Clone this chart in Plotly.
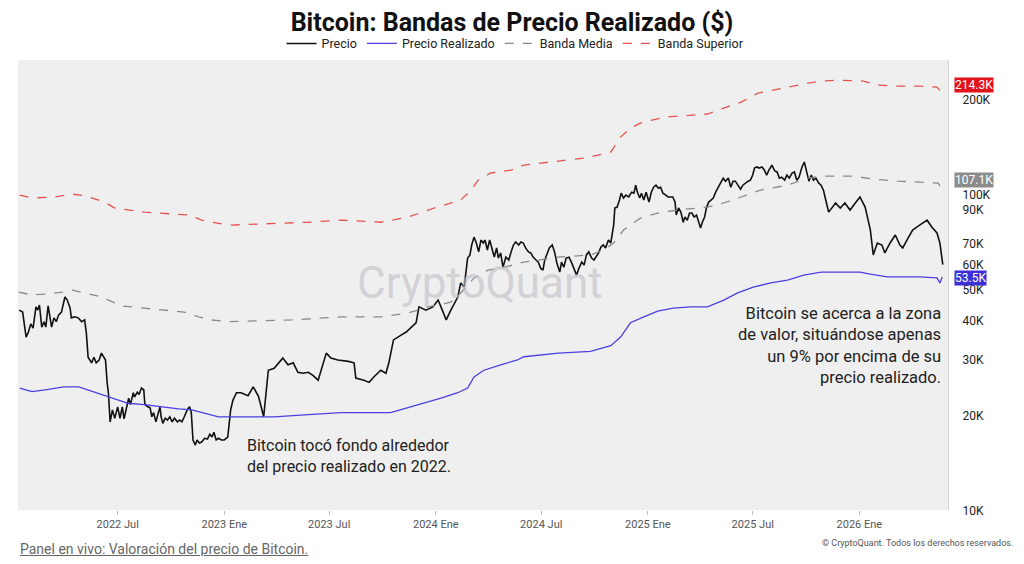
import math
import plotly.graph_objects as go

# Precio de Bitcoin (miles de USD)
price_dates = [
    '2022-01-12', '2022-01-18', '2022-01-24', '2022-01-28', '2022-02-01', '2022-02-05', '2022-02-10', '2022-02-13',
    '2022-02-16', '2022-02-20', '2022-02-24', '2022-02-27', '2022-03-03', '2022-03-06', '2022-03-09', '2022-03-13',
    '2022-03-17', '2022-03-21', '2022-03-26', '2022-04-01', '2022-04-05', '2022-04-10', '2022-04-12', '2022-04-18',
    '2022-04-24', '2022-04-30', '2022-05-05', '2022-05-08', '2022-05-11', '2022-05-17', '2022-05-21', '2022-05-25',
    '2022-05-30', '2022-06-03', '2022-06-07', '2022-06-10', '2022-06-13', '2022-06-15', '2022-06-18', '2022-06-22',
    '2022-06-26', '2022-07-01', '2022-07-05', '2022-07-09', '2022-07-12', '2022-07-16', '2022-07-20', '2022-07-23',
    '2022-07-28', '2022-07-30', '2022-08-04', '2022-08-07', '2022-08-11', '2022-08-15', '2022-08-17', '2022-08-22',
    '2022-08-26', '2022-08-29', '2022-09-01', '2022-09-05', '2022-09-09', '2022-09-12', '2022-09-14', '2022-09-17',
    '2022-09-21', '2022-09-25', '2022-09-29', '2022-10-03', '2022-10-07', '2022-10-12', '2022-10-16', '2022-10-20',
    '2022-10-24', '2022-10-29', '2022-11-02', '2022-11-05', '2022-11-08', '2022-11-12', '2022-11-15', '2022-11-19',
    '2022-11-23', '2022-11-28', '2022-12-03', '2022-12-07', '2022-12-11', '2022-12-14', '2022-12-18', '2022-12-22',
    '2022-12-27', '2023-01-01', '2023-01-07', '2023-01-09', '2023-01-12', '2023-01-16', '2023-01-22', '2023-01-30',
    '2023-02-11', '2023-02-20', '2023-03-01', '2023-03-10', '2023-03-15', '2023-03-18', '2023-03-28', '2023-04-12',
    '2023-04-21', '2023-04-30', '2023-05-08', '2023-05-17', '2023-05-26', '2023-06-03', '2023-06-12', '2023-06-17',
    '2023-06-26', '2023-07-04', '2023-07-16', '2023-08-03', '2023-08-13', '2023-08-16', '2023-08-30', '2023-09-08',
    '2023-09-16', '2023-09-28', '2023-10-07', '2023-10-12', '2023-10-20', '2023-11-02', '2023-11-11', '2023-11-20',
    '2023-11-28', '2023-12-03', '2023-12-15', '2023-12-27', '2024-01-05', '2024-01-10', '2024-01-19', '2024-01-27',
    '2024-02-08', '2024-02-13', '2024-02-19', '2024-02-25', '2024-02-29', '2024-03-03', '2024-03-07', '2024-03-11',
    '2024-03-15', '2024-03-19', '2024-03-23', '2024-03-26', '2024-03-30', '2024-04-03', '2024-04-07', '2024-04-11',
    '2024-04-15', '2024-04-18', '2024-04-22', '2024-04-26', '2024-05-01', '2024-05-06', '2024-05-10', '2024-05-14',
    '2024-05-18', '2024-05-23', '2024-05-27', '2024-05-31', '2024-06-04', '2024-06-09', '2024-06-13', '2024-06-17',
    '2024-06-22', '2024-06-26', '2024-06-30', '2024-07-04', '2024-07-07', '2024-07-11', '2024-07-15', '2024-07-20',
    '2024-07-24', '2024-07-28', '2024-08-02', '2024-08-05', '2024-08-09', '2024-08-13', '2024-08-18', '2024-08-22',
    '2024-08-26', '2024-08-31', '2024-09-04', '2024-09-09', '2024-09-13', '2024-09-17', '2024-09-21', '2024-09-26',
    '2024-09-30', '2024-10-03', '2024-10-08', '2024-10-12', '2024-10-16', '2024-10-20', '2024-10-25', '2024-10-29',
    '2024-11-01', '2024-11-03', '2024-11-05', '2024-11-09', '2024-11-13', '2024-11-16', '2024-11-20', '2024-11-24',
    '2024-11-29', '2024-12-04', '2024-12-08', '2024-12-11', '2024-12-14', '2024-12-18', '2024-12-21', '2024-12-25',
    '2024-12-29', '2025-01-03', '2025-01-07', '2025-01-11', '2025-01-15', '2025-01-19', '2025-01-23', '2025-01-27',
    '2025-02-01', '2025-02-05', '2025-02-09', '2025-02-13', '2025-02-17', '2025-02-19', '2025-02-23', '2025-02-27',
    '2025-03-03', '2025-03-06', '2025-03-10', '2025-03-14', '2025-03-18', '2025-03-22', '2025-03-26', '2025-03-29',
    '2025-04-02', '2025-04-05', '2025-04-09', '2025-04-12', '2025-04-16', '2025-04-20', '2025-04-24', '2025-04-28',
    '2025-05-03', '2025-05-07', '2025-05-11', '2025-05-15', '2025-05-20', '2025-05-24', '2025-05-28', '2025-06-01',
    '2025-06-06', '2025-06-10', '2025-06-14', '2025-06-18', '2025-06-23', '2025-06-27', '2025-07-01', '2025-07-04',
    '2025-07-08', '2025-07-12', '2025-07-17', '2025-07-21', '2025-07-25', '2025-07-29', '2025-08-03', '2025-08-08',
    '2025-08-12', '2025-08-16', '2025-08-20', '2025-08-25', '2025-08-29', '2025-09-02', '2025-09-07', '2025-09-11',
    '2025-09-15', '2025-09-19', '2025-09-24', '2025-09-28', '2025-10-02', '2025-10-06', '2025-10-10', '2025-10-14',
    '2025-10-18', '2025-10-23', '2025-10-27', '2025-10-31', '2025-11-04', '2025-11-09', '2025-11-21', '2025-11-29',
    '2025-12-07', '2025-12-16', '2025-12-25', '2026-01-02', '2026-01-11', '2026-01-20', '2026-01-25', '2026-02-01',
    '2026-02-09', '2026-02-14', '2026-02-23', '2026-03-04', '2026-03-12', '2026-03-17', '2026-03-26', '2026-04-03',
    '2026-04-15', '2026-04-28', '2026-05-06', '2026-05-15', '2026-05-20', '2026-05-25',
]
price_k = [
    42.0, 41.4, 34.5, 35.8, 38.0, 36.8, 43.0, 42.0,
    43.6, 37.1, 38.6, 37.1, 43.3, 40.5, 37.1, 39.7,
    38.6, 40.5, 41.4, 46.2, 45.2, 42.6, 39.7, 40.0,
    39.7, 38.6, 39.1, 35.5, 29.8, 28.6, 29.8, 28.6,
    29.2, 30.7, 29.8, 29.2, 24.6, 23.0, 18.6, 20.3,
    19.1, 20.75, 19.1, 20.75, 19.0, 20.6, 22.1, 21.1,
    23.0, 22.3, 23.1, 22.7, 23.8, 23.5, 21.1, 20.75,
    20.6, 19.3, 19.9, 18.6, 20.0, 20.75, 19.3, 18.4,
    19.1, 18.85, 19.3, 18.6, 19.1, 18.6, 18.85, 18.6,
    19.3, 20.3, 20.75, 20.0, 16.3, 15.7, 16.3, 15.95,
    16.05, 16.5, 16.4, 17.0, 16.65, 17.25, 16.3, 16.5,
    16.3, 16.3, 16.65, 17.9, 20.3, 21.8, 23.0, 23.0,
    22.5, 24.0, 22.4, 19.3, 23.5, 27.1, 27.5, 29.6,
    28.2, 28.6, 26.7, 26.5, 26.7, 26.1, 25.2, 27.1,
    30.7, 29.6, 29.2, 28.9, 28.6, 25.6, 25.2, 24.8,
    25.8, 27.1, 26.5, 28.6, 33.8, 35.0, 35.8, 37.1,
    38.3, 43.0, 42.0, 43.0, 45.2, 43.0, 39.1, 42.0,
    46.2, 51.2, 49.7, 61.4, 62.8, 67.5, 71.5, 68.5,
    64.2, 70.0, 68.5, 70.0, 65.1, 70.0, 66.1, 61.8,
    66.1, 61.4, 63.7, 57.4, 61.8, 60.5, 64.2, 67.5,
    69.0, 67.5, 69.0, 68.5, 66.1, 64.2, 63.7, 61.8,
    60.5, 59.6, 57.0, 56.2, 60.5, 63.7, 66.1, 67.5,
    64.2, 59.2, 55.4, 59.6, 57.4, 61.4, 61.8, 59.6,
    57.0, 54.2, 57.0, 59.6, 58.3, 62.8, 64.2, 61.4,
    60.5, 61.8, 63.7, 66.5, 67.5, 66.1, 70.0, 68.5,
    74.2, 78.0, 88.4, 89.0, 93.7, 98.5, 95.1, 97.1,
    95.8, 99.2, 98.5, 104.4, 99.2, 95.1, 98.5, 93.7,
    99.2, 92.3, 99.2, 102.9, 104.4, 102.2, 102.9, 98.5,
    97.1, 95.8, 95.8, 95.8, 92.3, 84.0, 88.4, 85.8,
    79.7, 82.8, 80.9, 85.2, 85.2, 82.8, 84.0, 80.9,
    76.4, 79.7, 82.8, 88.4, 92.3, 93.7, 95.1, 99.2,
    102.9, 105.9, 109.9, 107.5, 109.9, 102.9, 107.5, 107.5,
    104.4, 101.4, 104.4, 105.9, 107.5, 108.3, 112.4, 118.3,
    119.2, 118.3, 119.2, 116.6, 112.4, 116.6, 120.9, 115.8,
    115.0, 109.9, 110.7, 108.3, 112.4, 109.9, 114.1, 115.0,
    108.3, 110.7, 119.2, 123.6, 114.1, 107.5, 112.4, 108.3,
    109.9, 105.9, 104.4, 100.7, 93.7, 85.8, 91.7, 88.4,
    91.7, 87.1, 91.7, 95.8, 89.0, 75.3, 62.8, 68.5,
    67.5, 63.7, 68.5, 72.6, 67.5, 66.1, 71.0, 75.3,
    78.0, 80.9, 77.0, 73.7, 68.5, 58.5,
]

# Precio realizado (miles de USD)
realized_dates = [
    '2022-01-13', '2022-02-03', '2022-02-26', '2022-03-30', '2022-04-25', '2022-05-17', '2022-06-15', '2022-07-19',
    '2022-08-16', '2022-09-15', '2022-10-14', '2022-11-06', '2022-11-23', '2022-12-22', '2023-01-08', '2023-03-06',
    '2023-03-28', '2023-05-26', '2023-07-22', '2023-10-15', '2023-11-14', '2023-12-11', '2024-01-10', '2024-02-08',
    '2024-02-25', '2024-03-07', '2024-03-24', '2024-04-22', '2024-05-21', '2024-06-01', '2024-07-31', '2024-09-24',
    '2024-10-29', '2024-11-15', '2024-12-02', '2024-12-25', '2025-01-18', '2025-02-14', '2025-03-16', '2025-04-14',
    '2025-05-12', '2025-06-05', '2025-07-02', '2025-08-01', '2025-08-30', '2025-09-27', '2025-10-27', '2025-11-25',
    '2026-01-02', '2026-01-20', '2026-02-18', '2026-04-15', '2026-05-15', '2026-05-20', '2026-05-24',
]
realized_k = [
    23.8, 23.2, 23.5, 24.0, 24.0, 23.3, 22.3, 21.3,
    21.1, 20.75, 20.45, 20.3, 19.9, 19.3, 19.3, 19.3,
    19.3, 19.6, 19.9, 19.9, 20.6, 21.3, 22.1, 23.0,
    23.8, 25.8, 27.1, 28.2, 29.2, 29.9, 30.7, 31.1,
    32.4, 34.5, 38.3, 40.0, 41.7, 42.6, 43.0, 43.0,
    45.2, 47.6, 49.7, 51.2, 52.3, 54.2, 55.4, 55.4,
    55.4, 54.6, 53.5, 53.5, 53.1, 51.2, 53.5,
]

# Banda media (miles de USD)
mid_dates = [
    '2022-01-11', '2022-02-03', '2022-02-26', '2022-03-28', '2022-04-14', '2022-05-07', '2022-06-04', '2022-06-15',
    '2022-07-08', '2022-08-16', '2022-09-15', '2022-10-24', '2022-11-18', '2022-12-09', '2023-01-08', '2023-03-06',
    '2023-04-27', '2023-07-22', '2023-09-28', '2023-11-14', '2023-12-19', '2024-01-27', '2024-02-13', '2024-03-07',
    '2024-03-31', '2024-04-22', '2024-06-01', '2024-07-31', '2024-09-24', '2024-10-17', '2024-11-03', '2024-11-20',
    '2024-12-19', '2025-01-18', '2025-02-21', '2025-04-14', '2025-05-12', '2025-06-11', '2025-07-14', '2025-08-30',
    '2025-10-04', '2025-10-27', '2025-12-23', '2026-01-25', '2026-03-08', '2026-04-15', '2026-05-17', '2026-05-21',
    '2026-05-24',
]
mid_k = [
    47.9, 46.9, 47.2, 47.9, 48.6, 47.6, 46.2, 45.2,
    43.3, 42.6, 42.0, 41.4, 40.0, 39.1, 38.6, 38.8,
    39.1, 40.0, 40.0, 41.1, 43.0, 44.5, 47.6, 53.1,
    56.2, 57.0, 59.6, 61.8, 62.8, 65.1, 68.5, 75.3,
    82.1, 85.2, 87.1, 89.0, 91.7, 95.8, 100.7, 104.4,
    109.9, 111.5, 111.5, 109.1, 107.5, 106.8, 106.0, 103.0,
    107.1,
]

# Banda superior (miles de USD)
upper_dates = [
    '2022-01-13', '2022-02-03', '2022-03-14', '2022-04-14', '2022-05-07', '2022-06-08', '2022-06-26', '2022-08-16',
    '2022-11-01', '2022-11-23', '2023-01-08', '2023-03-06', '2023-05-26', '2023-07-22', '2023-09-28', '2023-11-14',
    '2023-12-29', '2024-02-13', '2024-03-02', '2024-03-14', '2024-04-05', '2024-05-10', '2024-06-01', '2024-07-31',
    '2024-09-14', '2024-10-29', '2024-11-15', '2024-12-02', '2024-12-19', '2025-01-29', '2025-03-16', '2025-04-14',
    '2025-05-12', '2025-06-11', '2025-07-10', '2025-08-20', '2025-10-05', '2025-10-27', '2025-11-25', '2026-01-08',
    '2026-02-01', '2026-03-08', '2026-04-15', '2026-05-15', '2026-05-21', '2026-05-24',
]
upper_k = [
    97.1, 95.1, 95.8, 97.8, 96.5, 92.3, 88.4, 85.8,
    84.0, 80.9, 78.0, 78.6, 79.7, 80.9, 79.7, 82.7,
    88.4, 93.7, 100.7, 108.3, 114.1, 116.6, 120.9, 124.5,
    127.2, 132.8, 148.2, 158.3, 164.1, 171.4, 174.1, 175.4,
    183.2, 191.3, 204.2, 211.8, 219.7, 223.0, 224.6, 223.0,
    216.5, 214.9, 214.9, 213.3, 207.2, 214.3,
]

tick_dates = ['2022-07-01', '2023-01-01', '2023-07-01', '2024-01-01', '2024-07-01', '2025-01-01', '2025-07-01', '2026-01-01']
tick_text = ['2022 Jul', '2023 Ene', '2023 Jul', '2024 Ene', '2024 Jul', '2025 Ene', '2025 Jul', '2026 Ene']
y_ticks_k = [10, 20, 30, 40, 50, 60, 70, 90, 100, 200]

badge_values_k = [214.3, 107.1, 53.5]
badge_colors = ['#e3131b', '#8c8c8c', '#3d2fd6']
badge_shift = [2, 2, -1]

assert len(price_dates) == len(price_k)

FONT = 'Roboto, sans-serif'

fig = go.Figure()
fig.add_trace(go.Scatter(x=price_dates, y=[v * 1000 for v in price_k], name='Precio',
                         mode='lines', line=dict(color='#111111', width=1.6)))
fig.add_trace(go.Scatter(x=realized_dates, y=[v * 1000 for v in realized_k], name='Precio Realizado',
                         mode='lines', line=dict(color='#4b3fe0', width=1.3)))
fig.add_trace(go.Scatter(x=mid_dates, y=[v * 1000 for v in mid_k], name='Banda Media',
                         mode='lines', line=dict(color='#8a8a8a', width=1.3, dash='dash')))
fig.add_trace(go.Scatter(x=upper_dates, y=[v * 1000 for v in upper_k], name='Banda Superior',
                         mode='lines', line=dict(color='#e65252', width=1.3, dash='dash')))

# etiquetas de valor actual en el eje derecho
for val, col, sh in zip(badge_values_k, badge_colors, badge_shift):
    fig.add_annotation(x=1.0065, xref='paper', y=math.log10(val * 1000), yref='y', yshift=sh,
                       text=f'{val}K', showarrow=False, xanchor='left', yanchor='middle',
                       bgcolor=col, font=dict(color='white', size=12, family=FONT),
                       borderpad=0)

# recuadros rojos
fig.add_shape(type='rect', x0='2022-06-02', x1='2023-01-16', y0=math.log10(14900), y1=math.log10(23600),
              line=dict(color='#e3131b', width=1.5))
fig.add_shape(type='rect', x0='2025-12-29', x1='2026-05-27', y0=math.log10(48600), y1=math.log10(59600),
              line=dict(color='#e3131b', width=1.5))

fig.add_annotation(x=0.244, y=0.168, xref='paper', yref='paper', xanchor='left', yanchor='top', align='left',
                   showarrow=False, text='Bitcoin tocó fondo alrededor<br>del precio realizado en 2022.',
                   font=dict(size=16, color='#222222', family=FONT))
fig.add_annotation(x=0.995, y=0.462, xref='paper', yref='paper', xanchor='right', yanchor='top', align='right',
                   showarrow=False,
                   text='Bitcoin se acerca a la zona<br>de valor, situándose apenas<br>un 9% por encima de su<br>precio realizado.',
                   font=dict(size=16.5, color='#222222', family=FONT))

# marca de agua
fig.add_annotation(x=0.497, y=0.505, xref='paper', yref='paper', showarrow=False, text='CryptoQuant',
                   font=dict(size=44, color='rgba(190,190,198,0.6)', family=FONT))

# pie
fig.add_annotation(x=0, y=-0.087, xref='paper', yref='paper', xanchor='left', yanchor='middle', showarrow=False,
                   text='<u>Panel en vivo: Valoración del precio de Bitcoin.</u>',
                   font=dict(size=14, color='#666666', family=FONT))
fig.add_annotation(x=1.072, y=-0.073, xref='paper', yref='paper', xanchor='right', yanchor='middle', showarrow=False,
                   text='© CryptoQuant. Todos los derechos reservados.',
                   font=dict(size=9, color='#555555', family=FONT))

# la página tiene 8 px de margen: la figura ocupa 1008x548 dentro de la ventana
fig.update_layout(
    width=1008, height=548,
    margin=dict(l=10, r=68, t=52, b=46),
    paper_bgcolor='#ffffff',
    plot_bgcolor='#efefef',
    title=dict(text='<b>Bitcoin: Bandas de Precio Realizado ($)</b>', x=0.5, xanchor='center',
               y=0.99, yanchor='top', font=dict(size=25, color='#111111', family=FONT)),
    legend=dict(orientation='h', x=0.535, xanchor='center', y=1.036, yanchor='middle',
                font=dict(size=12.5, color='#222222', family=FONT), bgcolor='rgba(0,0,0,0)'),
    xaxis=dict(type='date', range=['2022-01-10', '2026-06-03'], tickvals=tick_dates, ticktext=tick_text,
               showgrid=False, zeroline=False, ticks='outside', ticklen=4, tickcolor='#bbbbbb',
               tickfont=dict(size=11, color='#555555', family=FONT)),
    yaxis=dict(type='log', side='right', range=[3.9905, 5.415], tickvals=[v * 1000 for v in y_ticks_k],
               ticktext=[f'{v}K' for v in y_ticks_k], showgrid=False, zeroline=False,
               showline=True, linecolor='#d5d5d5', ticks='', ticklabelstandoff=11, ticklabelshift=4,
               tickfont=dict(size=12, color='#222222', family=FONT)),
)

fig.write_html('out.html')
